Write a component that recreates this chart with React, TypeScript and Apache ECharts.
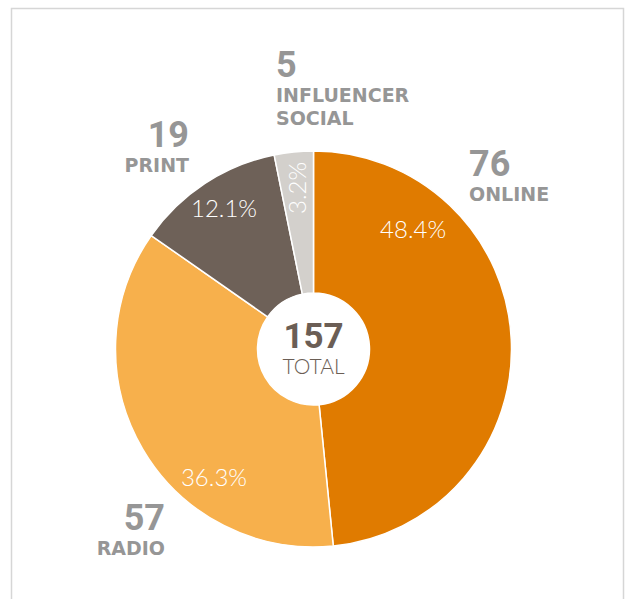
import React, { useEffect, useRef } from 'react';
import * as echarts from 'echarts';

const categories = ['Online', 'Radio', 'Print', 'Influencer Social'];
const outsideNames = ['ONLINE', 'RADIO', 'PRINT', 'INFLUENCER\nSOCIAL'];
const values = [76, 57, 19, 5];
const colors = ['#E07B00', '#F7B04C', '#6E6158', '#D3D0CC'];
const totalLabel = 'TOTAL';

// layout (px)
const CX = 313.5;
const CY = 349;
const R = 198;
const R0 = 56;
// inside percentage labels: [angle clockwise from 12 o'clock, distance from centre]
const innerLabelPolar: [number, number][] = [[39.7, 156], [217.9, 162], [327.6, 167], [354.1, 162]];
const innerLabelRotate = [0, 0, 0, 90];
// outside value/name labels
const outerLabelAnchor = [
  { x: 469, y: 146, align: 'left' },
  { x: 165, y: 500, align: 'right' },
  { x: 189, y: 117, align: 'right' },
  { x: 276, y: 47, align: 'left' },
];

export default function App() {
  const ref = useRef<HTMLDivElement>(null);
  useEffect(() => {
    if (!ref.current) return;
    const chart = echarts.init(ref.current, null, { renderer: 'svg' });
    const total = values.reduce((a, b) => a + b, 0);
    const pct = values.map((v) => ((v / total) * 100).toFixed(1) + '%');
    const grey = '#969696';
    chart.setOption({
      animation: false,
      backgroundColor: '#ffffff',
      graphic: [
        {
          type: 'rect',
          z: -10,
          shape: { x: 11.5, y: 8.5, width: 612, height: 640 },
          style: { fill: '#ffffff', stroke: '#d6d6d6', lineWidth: 1.5 },
        },
        {
          type: 'text',
          z: 100,
          x: CX,
          y: 347,
          style: {
            text: `{a|${total}}\n{b|${totalLabel}}`,
            textAlign: 'center',
            textVerticalAlign: 'middle',
            rich: {
              a: { fontFamily: 'Roboto', fontWeight: 'bold', fontSize: 35, lineHeight: 36, fill: '#6B5E55', align: 'center' },
              b: { fontFamily: 'Lato', fontWeight: 300, fontSize: 21, lineHeight: 22, fill: '#6B5E55', align: 'center' },
            },
          },
        },
      ],
      series: [
        {
          type: 'pie',
          center: [CX, CY],
          radius: [R0, R],
          startAngle: 90,
          clockwise: true,
          silent: true,
          avoidLabelOverlap: false,
          itemStyle: { borderColor: '#ffffff', borderWidth: 1.5 },
          label: {
            show: true,
            position: 'inside',
            color: '#ffffff',
            fontFamily: 'Lato',
            fontWeight: 300,
            fontSize: 24,
            formatter: (p: any) => pct[p.dataIndex],
          },
          labelLine: { show: false },
          labelLayout: (p: any) => {
            const [a, d] = innerLabelPolar[p.dataIndex];
            const rad = (a * Math.PI) / 180;
            return {
              x: CX + d * Math.sin(rad),
              y: CY - d * Math.cos(rad),
              align: 'center',
              verticalAlign: 'middle',
              rotate: innerLabelRotate[p.dataIndex],
            };
          },
          data: categories.map((c, i) => ({
            name: c,
            value: values[i],
            itemStyle: { color: colors[i] },
          })),
        },
        {
          type: 'pie',
          center: [CX, CY],
          radius: [R0, R],
          startAngle: 90,
          clockwise: true,
          silent: true,
          avoidLabelOverlap: false,
          itemStyle: { color: 'rgba(0,0,0,0)', borderWidth: 0 },
          label: {
            show: true,
            position: 'inside',
            formatter: (p: any) => {
              const names = outsideNames[p.dataIndex].split('\n').map((n) => `{n|${n}}`).join('\n');
              return `{v|${p.value}}\n${names}`;
            },
            rich: {
              v: { fontFamily: 'Roboto', fontWeight: 'bold', fontSize: 36, lineHeight: 36, color: grey },
              n: { fontFamily: 'DejaVu Sans', fontWeight: 'bold', fontSize: 19, lineHeight: 23, color: grey },
            },
          },
          labelLine: { show: false },
          labelLayout: (p: any) => {
            const a = outerLabelAnchor[p.dataIndex];
            return { x: a.x, y: a.y, align: a.align, verticalAlign: 'top' };
          },
          data: categories.map((c, i) => ({ name: c, value: values[i] })),
        },
      ],
    });
    return () => chart.dispose();
  }, []);
  return <div ref={ref} style={{ position: 'absolute', left: 0, top: 0, width: 625, height: 599 }} />;
}
